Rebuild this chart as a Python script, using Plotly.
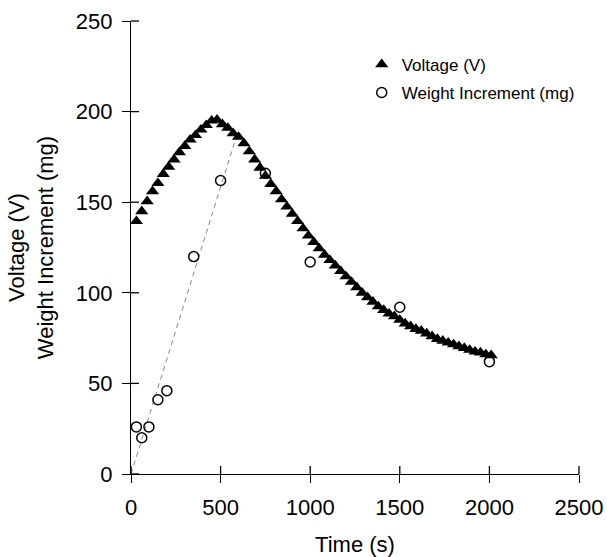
import plotly.graph_objects as go

# ---- data ----
time_v = [30, 60, 90, 120, 150, 180, 210, 240, 270, 300, 330, 360, 390, 420, 450,
          480, 510, 540, 570, 600, 630, 660, 690, 720, 750, 780, 810, 840, 870, 900,
          930, 960, 990, 1020, 1050, 1080, 1110, 1140, 1170, 1200, 1230, 1260, 1290,
          1320, 1350, 1380, 1410, 1440, 1470, 1500, 1530, 1560, 1590, 1620, 1650,
          1680, 1710, 1740, 1770, 1800, 1830, 1860, 1890, 1920, 1950, 1980, 2010]
voltage = [139.5, 145, 150.5, 156, 160.5, 165.5, 169.5, 173.5, 177.5, 181, 184.5,
           187, 190, 192.5, 195, 195.5, 193, 191, 188, 186, 182.5, 178, 173.5, 169,
           164.5, 160, 156, 151.5, 147.5, 143.5, 139.5, 135.5, 131.5, 128, 124.5,
           121, 118, 115, 112, 109, 106, 103, 100, 97.5, 95, 92.5, 90.5, 88.5, 87,
           85, 83, 81.5, 80, 79, 77.5, 76, 74.5, 73.5, 72.5, 71.5, 70.5, 69.5, 68.5,
           67.5, 67, 66, 65.5]

time_w = [30, 60, 100, 150, 200, 350, 500, 750, 1000, 1500, 2000]
weight = [26, 20, 26, 41, 46, 120, 162, 166, 117, 92, 62]

fit_t = [0, 600]
fit_w = [0, 190]

x_ticks = [0, 500, 1000, 1500, 2000, 2500]
y_ticks = [0, 50, 100, 150, 200, 250]

FONT = "Liberation Sans, Arial, sans-serif"
W, H = 607, 557
M = dict(l=131, r=28, t=21, b=83)
TICKLEN = 8
TICKW = 1.3
plot_w = W - M["l"] - M["r"]
plot_h = H - M["t"] - M["b"]
x_rng = [0, 2500]
y_rng = [0, 250]

fig = go.Figure()

fig.add_trace(go.Scatter(
    x=fit_t, y=fit_w, mode="lines",
    line=dict(color="#888888", width=1, dash="5px,4px"),
    showlegend=False, hoverinfo="skip"))

fig.add_trace(go.Scatter(
    x=time_w, y=weight, mode="markers", name="Weight Increment (mg)",
    marker=dict(symbol="circle-open", size=10, color="black", line=dict(width=1.5, color="black")),
    legendrank=2, legendgroup="w"))

fig.add_trace(go.Scatter(
    x=time_v, y=voltage, mode="markers", name="Voltage (V)",
    marker=dict(symbol="triangle-up", size=11.5, color="black"),
    legendrank=1, legendgroup="v"))

# inner halves of the crossing tick marks, placed in paper fractions of the plot area
for v in x_ticks:
    fx = (v - x_rng[0]) / (x_rng[1] - x_rng[0])
    fig.add_shape(type="line", xref="paper", yref="paper",
                  x0=fx, x1=fx, y0=0, y1=TICKLEN / plot_h, layer="above",
                  line=dict(color="black", width=TICKW))
for v in y_ticks:
    fy = (v - y_rng[0]) / (y_rng[1] - y_rng[0])
    fig.add_shape(type="line", xref="paper", yref="paper",
                  y0=fy, y1=fy, x0=0, x1=TICKLEN / plot_w, layer="above",
                  line=dict(color="black", width=TICKW))

axis_common = dict(showgrid=False, zeroline=False, linecolor="black", linewidth=TICKW,
                   ticks="outside", ticklen=TICKLEN, tickwidth=TICKW, tickcolor="black",
                   tickfont=dict(family=FONT, size=22, color="black"),
                   showline=True, ticklabelstandoff=5, automargin=False)

fig.update_layout(
    width=W, height=H,
    margin=dict(**M, autoexpand=False),
    paper_bgcolor="white", plot_bgcolor="white",
    font=dict(family=FONT, color="black"),
    xaxis=dict(range=x_rng, tickvals=x_ticks, **axis_common,
               title=dict(text="Time (s)", font=dict(family=FONT, size=22), standoff=20)),
    yaxis=dict(range=y_rng, tickvals=y_ticks, **axis_common,
               title=dict(text="Voltage (V)<br>Weight Increment (mg)",
                          font=dict(family=FONT, size=22), standoff=16)),
    legend=dict(x=0.515, y=0.943, xanchor="left", yanchor="top",
                font=dict(family=FONT, size=17, color="black"),
                bgcolor="rgba(0,0,0,0)", traceorder="grouped", tracegroupgap=3,
                itemwidth=30),
)

fig.write_html("out.html")
